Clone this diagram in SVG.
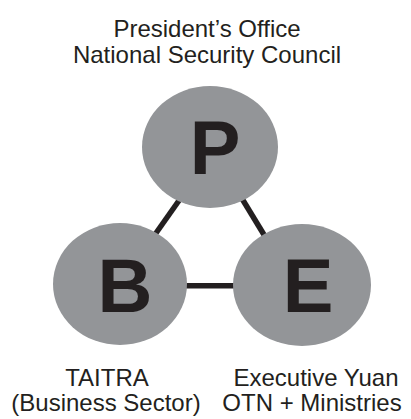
<svg xmlns="http://www.w3.org/2000/svg" width="411" height="419" viewBox="0 0 411 419">
<style>
.lbl{font-family:"Liberation Sans",Arial,sans-serif;font-size:24px;fill:#231f20;text-anchor:middle}
.big{font-family:"Liberation Sans",Arial,sans-serif;font-size:76px;font-weight:bold;fill:#231f20;text-anchor:middle}
.node{fill:#939598}
.conn{stroke:#231f20;stroke-width:5.5;fill:none}
</style>
<rect width="411" height="419" fill="#ffffff"/>
<g id="connectors">
<line class="conn" x1="185" y1="192" x2="149" y2="243"/>
<line class="conn" x1="238" y1="192" x2="269" y2="243"/>
<line class="conn" x1="180" y1="285.7" x2="240" y2="285.7"/>
</g>
<g id="node-P">
<ellipse class="node" cx="210" cy="147" rx="68" ry="61"/>
<text class="big" x="215" y="174">P</text>
<text class="lbl" x="207" y="37">President’s Office</text>
<text class="lbl" x="207" y="63">National Security Council</text>
</g>
<g id="node-B">
<ellipse class="node" cx="120" cy="284" rx="67" ry="61"/>
<text class="big" x="125" y="312">B</text>
<text class="lbl" x="107" y="386">TAITRA</text>
<text class="lbl" x="106" y="411">(Business Sector)</text>
</g>
<g id="node-E">
<ellipse class="node" cx="302" cy="285" rx="69" ry="61"/>
<text class="big" x="308" y="312">E</text>
<text class="lbl" x="316" y="386">Executive Yuan</text>
<text class="lbl" x="312" y="411">OTN + Ministries</text>
</g>
</svg>
